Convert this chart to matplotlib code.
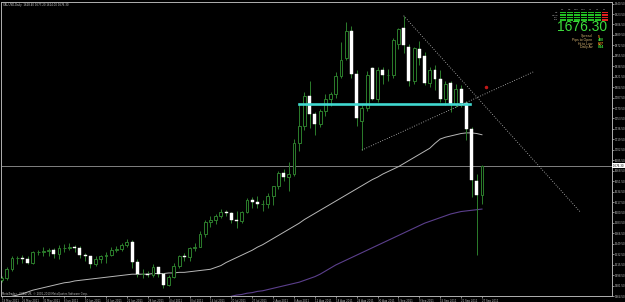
import matplotlib.pyplot as plt
import matplotlib.patches as mpatches
import numpy as np

# XAUUSD daily bars, 19 May 2011 .. 27 Sep 2011
opens = [1491, 1494, 1509, 1526, 1526, 1524, 1518, 1536, 1536, 1537, 1540, 1533, 1542, 1543, 1545, 1543,
         1531, 1529, 1516, 1525, 1529, 1531, 1539, 1541, 1548, 1553, 1520, 1500, 1501, 1498, 1511, 1500,
         1483, 1496, 1513, 1530, 1528, 1542, 1545, 1565, 1585, 1588, 1595, 1602, 1600, 1588, 1587, 1602,
         1620, 1617, 1614, 1615, 1628, 1643, 1664, 1658, 1663, 1714, 1741, 1790, 1760, 1745, 1765, 1785,
         1793, 1823, 1852, 1896, 1826, 1749, 1770, 1835, 1786, 1833, 1824, 1824, 1875, 1900, 1870, 1814,
         1867, 1856, 1812, 1832, 1818, 1786, 1812, 1777, 1801, 1778, 1736, 1652, 1628.4]
highs = [1497, 1512, 1529, 1530, 1531, 1530, 1538, 1539, 1545, 1543, 1542, 1547, 1549, 1551, 1548, 1546,
         1534, 1530, 1529, 1532, 1536, 1545, 1546, 1550, 1557, 1556, 1525, 1508, 1505, 1516, 1512, 1502,
         1498, 1518, 1532, 1534, 1545, 1550, 1570, 1588, 1594, 1598, 1606, 1605, 1602, 1603, 1603, 1624,
         1625, 1628, 1620, 1632, 1644, 1668, 1672, 1682, 1720, 1778, 1796, 1814, 1764, 1769, 1793, 1796,
         1829, 1878, 1911, 1904, 1832, 1775, 1830, 1838, 1838, 1837, 1834, 1885, 1900, 1921, 1874, 1870,
         1880, 1862, 1838, 1840, 1832, 1815, 1815, 1810, 1808, 1782, 1740, 1663, 1677.2]
lows = [1487, 1491, 1506, 1517, 1519, 1516, 1516, 1532, 1530, 1530, 1527, 1525, 1536, 1539, 1536, 1527,
        1522, 1510, 1513, 1519, 1519, 1529, 1536, 1538, 1544, 1510, 1495, 1494, 1495, 1495, 1495, 1478,
        1481, 1493, 1510, 1522, 1522, 1538, 1545, 1561, 1577, 1582, 1591, 1594, 1583, 1576, 1584, 1600,
        1607, 1607, 1603, 1607, 1612, 1639, 1651, 1636, 1660, 1700, 1735, 1738, 1727, 1740, 1758, 1774,
        1787, 1820, 1848, 1820, 1741, 1702, 1766, 1783, 1780, 1810, 1814, 1819, 1866, 1860, 1806, 1810,
        1840, 1808, 1805, 1800, 1780, 1775, 1764, 1772, 1772, 1718, 1625, 1532, 1614.0]
closes = [1494, 1509, 1526, 1526, 1524, 1518, 1536, 1536, 1537, 1540, 1533, 1542, 1543, 1545, 1543, 1531,
          1529, 1516, 1525, 1529, 1531, 1539, 1541, 1548, 1553, 1520, 1500, 1501, 1498, 1511, 1500, 1483,
          1496, 1513, 1530, 1528, 1542, 1545, 1565, 1585, 1588, 1595, 1602, 1600, 1588, 1587, 1602, 1620,
          1617, 1614, 1615, 1628, 1643, 1664, 1658, 1663, 1714, 1741, 1790, 1760, 1745, 1765, 1785, 1793,
          1823, 1849, 1896, 1826, 1755, 1770, 1825, 1786, 1833, 1824, 1825, 1882, 1899, 1873, 1814, 1868,
          1852, 1812, 1833, 1817, 1786, 1809, 1777, 1802, 1778, 1736, 1654, 1628.4, 1676.3]

# moving averages
ma_fast = [1458, 1461, 1464, 1466, 1468, 1471, 1474, 1476, 1478, 1480, 1482, 1484, 1486, 1487, 1489, 1490,
           1491, 1492, 1493, 1494, 1495, 1496, 1497, 1498, 1499, 1500, 1500, 1500, 1500, 1501, 1501, 1501,
           1502, 1502, 1503, 1503, 1504, 1505, 1506, 1507, 1508, 1511, 1514, 1519, 1523, 1527, 1531, 1535,
           1539, 1544, 1548, 1553, 1558, 1563, 1568, 1573, 1578, 1583, 1589, 1594, 1599, 1604, 1609, 1614,
           1619, 1624, 1629, 1634, 1639, 1644, 1649, 1654, 1658, 1663, 1667, 1671, 1675, 1680, 1685, 1690,
           1695, 1700, 1705, 1713, 1720, 1723, 1725, 1727, 1729, 1730, 1730, 1729, 1727]
ma_slow = [np.nan] * 40 + [1456, 1458, 1460, 1462, 1464, 1466, 1467, 1469, 1470, 1472, 1473, 1475, 1477,
           1479, 1481, 1483, 1485, 1487, 1490, 1493, 1496, 1500, 1505, 1510, 1515, 1519, 1523, 1527, 1531,
           1535, 1539, 1543, 1547, 1551, 1555, 1559, 1563, 1567, 1571, 1575, 1579, 1583, 1586, 1589, 1592,
           1595, 1598, 1600, 1602, 1603, 1604, 1605, 1606]

date_labels = ['19 May 2011', '25 May 2011', '31 May 2011', '6 Jun 2011', '10 Jun 2011', '16 Jun 2011',
               '22 Jun 2011', '28 Jun 2011', '4 Jul 2011', '8 Jul 2011', '14 Jul 2011', '20 Jul 2011',
               '27 Jul 2011', '2 Aug 2011', '8 Aug 2011', '12 Aug 2011', '18 Aug 2011', '24 Aug 2011',
               '30 Aug 2011', '5 Sep 2011', '9 Sep 2011', '15 Sep 2011', '21 Sep 2011', '27 Sep 2011']
price_ticks = [1464.5 + 17 * k for k in range(29)]

bid = 1676.30
support_level = 1776.4
# drawn objects: (bar, price) pairs
down_trend = [(77, 1920.8), (110.8, 1601.5)]
up_trend = [(69, 1702.0), (101.8, 1829.2)]
signal_mark = (92.8, 1804.8)

green = '#2c7d2c'
W, H = 625, 302

fig = plt.figure(figsize=(W / 100, H / 100), dpi=100, facecolor='black')
ax = fig.add_axes([1 / W, 6 / H, 611 / W, 294 / H], facecolor='black')

n = len(closes)
x = np.arange(n)
o = np.array(opens)
c = np.array(closes)
ax.vlines(x, lows, highs, color=green, lw=0.7, zorder=2)
up = c >= o
body = np.maximum(np.abs(c - o), 0.8)
base = np.minimum(o, c)
ax.bar(x[up], body[up], bottom=base[up], width=0.55, facecolor='black', edgecolor=green, lw=0.7, zorder=3)
ax.bar(x[~up], body[~up], bottom=base[~up], width=0.55, facecolor='white', edgecolor='white', lw=0.3, zorder=3)

ax.plot(x, ma_fast, color='#b8b8b8', lw=0.7, zorder=1)
ax.plot(x, ma_slow, color='#5b3f8c', lw=0.8, zorder=1)

ax.axhline(bid, color='#808080', lw=0.7, zorder=0)
ax.plot([57, 89.8], [support_level, support_level], color='#40d8d0', lw=1.9, zorder=4)
ax.plot(*zip(*down_trend), color='#c8c8c8', lw=0.6, ls=(0, (1, 2)), zorder=4)
ax.plot(*zip(*up_trend), color='#c8c8c8', lw=0.6, ls=(0, (1, 2)), zorder=4)
ax.plot(*signal_mark, marker='o', ms=1.5, color='#c01818', zorder=4)

ax.set_xlim(-0.1, 116.9)
ax.set_ylim(1464.8, 1943.1)

for s in ax.spines.values():
    s.set_color('#b0b0b0')
    s.set_linewidth(0.7)

ax.set_xticks(range(0, 4 * len(date_labels), 4))
ax.set_xticklabels(date_labels)
ax.tick_params(axis='x', colors='#c0c0c0', labelsize=1.9, length=1.5, width=0.5, pad=0.8)
plt.setp(ax.get_xticklabels(), ha='left')
ax.yaxis.tick_right()
ax.set_yticks(price_ticks)
ax.set_yticklabels([f'{p:.2f}' for p in price_ticks])
ax.tick_params(axis='y', colors='#c0c0c0', labelsize=1.9, length=1.5, width=0.5, pad=0.8)

ax.text(1.0, bid, f' {bid:.2f} ', transform=ax.get_yaxis_transform(), ha='left', va='center',
        fontsize=1.9, color='black', bbox=dict(boxstyle='square,pad=0.15', fc='white', ec='none'),
        clip_on=False)


def px(xp, yp):
    return xp / W, 1 - yp / H


fig.text(*px(3, 5), 'XAUUSD,Daily  1628.40 1677.20 1614.00 1676.30', color='#d0d0d0', fontsize=1.9,
         va='center', ha='left')
fig.text(*px(2, 293.5), 'MetaTrader - FXDD UK, \u00a9 2001-2010 MetaQuotes Software Corp.', color='#c0c0c0',
         fontsize=1.9, va='center', ha='left')

# signal bars panel
frames = ['M1', 'M5', 'M15', 'M30', 'H1', 'H4', 'D1']
rows = ['MA', 'MACD', 'CCI', 'STR']
for i, f in enumerate(frames):
    x0 = 559.5 + i * 7
    fig.text(*px(x0 + 3, 9.3), f, color='#c0c0c0', fontsize=1.6, ha='center', va='center')
    col = '#e02020' if i == len(frames) - 1 else '#22c022'
    for j in range(len(rows)):
        y0 = 11.5 + j * 2.5
        fig.patches.append(mpatches.Rectangle(px(x0, y0 + 1.9), 6 / W, 1.9 / H, transform=fig.transFigure,
                                              facecolor=col, edgecolor='none'))
for j, r in enumerate(rows):
    fig.text(*px(558, 12.5 + j * 2.5), r, color='#c0c0c0', fontsize=1.5, ha='right', va='center')

fig.text(*px(607, 27), f'{bid:.2f}', color='#3ddc3d', fontsize=10, family='Liberation Sans',
         ha='right', va='center')
info = [('Spread', '5', '#ff9020'), ('Pips to Open', '480', '#3ddc3d'),
        ('Hi to Low', '627', '#ff9020'), ('Daily Av', '844', '#3ddc3d')]
for k, (lab, val, vc) in enumerate(info):
    fig.text(*px(592.5, 36.5 + 3.6 * k), lab, color='#d2b070', fontsize=2.5, family='Liberation Sans',
             ha='right', va='center')
    fig.text(*px(597.5, 36.5 + 3.6 * k), val, color=vc, fontsize=2.5, family='Liberation Sans',
             ha='left', va='center', weight='bold')

fig.savefig('out.png', dpi=100, facecolor='black')
